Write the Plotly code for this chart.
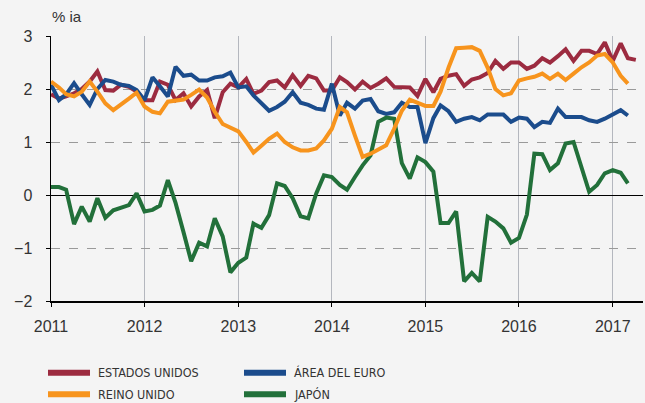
import plotly.graph_objects as go
import pandas as pd

months = pd.date_range("2011-01-01", "2017-04-01", freq="MS")

us = [1.90, 1.82, 1.86, 1.92, 2.00, 2.14, 2.33, 1.98, 1.97, 2.08, 2.04, 1.95,
      1.79, 1.79, 2.14, 2.08, 1.79, 1.92, 1.67, 1.86, 1.98, 1.45, 1.94, 2.10,
      2.03, 2.19, 1.91, 1.97, 2.13, 2.16, 2.03, 2.26, 2.06, 2.25, 2.20, 1.97,
      1.97, 2.22, 2.13, 1.99, 2.14, 2.02, 2.10, 2.20, 2.04, 2.03, 2.03, 1.87,
      2.19, 1.94, 2.19, 2.25, 2.28, 2.06, 2.18, 2.22, 2.30, 2.53, 2.38, 2.50,
      2.50, 2.38, 2.44, 2.58, 2.50, 2.62, 2.75, 2.53, 2.72, 2.72, 2.66, 2.88,
      2.53, 2.86, 2.58, 2.55]

euro = [2.08, 1.79, 1.90, 2.11, 1.90, 1.70, 2.00, 2.17, 2.14, 2.08, 2.06, 1.98,
        1.79, 2.22, 2.05, 1.86, 2.42, 2.25, 2.27, 2.16, 2.16, 2.22, 2.24, 2.31,
        2.03, 2.05, 1.88, 1.72, 1.59, 1.66, 1.76, 1.94, 1.74, 1.70, 1.63, 1.61,
        2.10, 1.50, 1.74, 1.63, 1.78, 1.81, 1.58, 1.53, 1.56, 1.74, 1.66, 1.66,
        0.98, 1.45, 1.69, 1.58, 1.38, 1.44, 1.47, 1.41, 1.52, 1.52, 1.52, 1.38,
        1.46, 1.44, 1.28, 1.38, 1.36, 1.63, 1.47, 1.47, 1.47, 1.41, 1.38, 1.44,
        1.53, 1.60, 1.50]

uk = [2.14, 2.03, 1.90, 1.86, 1.95, 2.14, 1.95, 1.73, 1.60, 1.70, 1.82, 1.93,
      1.67, 1.57, 1.54, 1.76, 1.78, 1.80, 1.89, 1.99, 1.84, 1.57, 1.34, 1.28,
      1.20, 1.00, 0.80, 0.93, 1.06, 1.16, 1.00, 0.90, 0.84, 0.84, 0.88, 1.03,
      1.25, 1.66, 1.56, 1.12, 0.72, 0.78, 0.86, 0.94, 1.25, 1.59, 1.80, 1.74,
      1.68, 1.68, 1.95, 2.40, 2.77, 2.78, 2.79, 2.72, 2.40, 2.00, 1.88, 1.92,
      2.16, 2.20, 2.23, 2.29, 2.19, 2.29, 2.17, 2.29, 2.41, 2.50, 2.63, 2.66,
      2.50, 2.25, 2.10]

japan = [0.15, 0.15, 0.10, -0.55, -0.22, -0.50, -0.06, -0.43, -0.29, -0.25, -0.19, 0.03,
         -0.31, -0.28, -0.20, 0.28, -0.15, -0.70, -1.25, -0.90, -0.97, -0.44, -0.78, -1.46,
         -1.28, -1.18, -0.54, -0.62, -0.38, 0.22, 0.17, -0.06, -0.40, -0.44, 0.03, 0.37,
         0.34, 0.19, 0.10, 0.34, 0.56, 0.75, 1.38, 1.46, 1.44, 0.60, 0.31, 0.71,
         0.62, 0.44, -0.53, -0.53, -0.31, -1.63, -1.47, -1.63, -0.41, -0.50, -0.63, -0.90,
         -0.81, -0.37, 0.78, 0.77, 0.47, 0.60, 0.97, 1.00, 0.53, 0.06, 0.19, 0.41,
         0.47, 0.42, 0.22]

names = ["ESTADOS UNIDOS", "ÁREA DEL EURO", "REINO UNIDO", "JAPÓN"]
colors = {"ESTADOS UNIDOS": "#9C2B40", "ÁREA DEL EURO": "#1B4C8C",
          "REINO UNIDO": "#F7941D", "JAPÓN": "#22703A"}
yticks = [-2, -1, 0, 1, 2, 3]
year_ticks = [f"{y}-01-01" for y in range(2011, 2018)]
year_labels = [str(y) for y in range(2011, 2018)]

series = {"ESTADOS UNIDOS": us, "ÁREA DEL EURO": euro, "REINO UNIDO": uk, "JAPÓN": japan}
draw_order = ["ESTADOS UNIDOS", "ÁREA DEL EURO", "JAPÓN", "REINO UNIDO"]

fig = go.Figure()
for n in draw_order:
    vals = series[n]
    fig.add_trace(go.Scatter(x=months[:len(vals)], y=vals, mode="lines", name=n,
                             line=dict(color=colors[n], width=4), showlegend=False))

BG = "#F4F4F4"
TXT = "#333333"
fig.update_layout(
    width=645, height=403,
    margin=dict(l=51, r=2, t=36, b=102),
    paper_bgcolor=BG, plot_bgcolor=BG,
    font=dict(family="Liberation Sans, Arial, sans-serif", size=16, color=TXT),
)
fig.update_xaxes(
    type="date", range=["2011-01-01", "2017-04-29"],
    tickvals=year_ticks, ticktext=year_labels,
    showgrid=True, gridcolor="#B4B7BE", gridwidth=1,
    showline=True, linecolor="#000000", linewidth=1.5,
    ticks="outside", ticklen=4, tickcolor="#000000",
    ticklabelstandoff=6, zeroline=False,
)
fig.update_yaxes(
    range=[-2, 3], tickvals=yticks,
    showgrid=True, gridcolor="#9A9A9A", griddash="dash", gridwidth=1,
    showline=True, linecolor="#000000", linewidth=1.5,
    ticks="outside", ticklen=4, tickcolor="#000000",
    zeroline=True, zerolinecolor="#000000", zerolinewidth=1,
    ticklabelstandoff=10,
)

fig.add_annotation(text="% ia", xref="paper", yref="paper", x=-0.002, y=1.075,
                   xanchor="left", yanchor="middle", showarrow=False,
                   font=dict(size=15, color=TXT))

# legend (two columns)
H = 265.0
W = 592.0
def px(xp):
    return (xp - 51) / W
def py(yp):
    return (301 - yp) / H

leg = [("ESTADOS UNIDOS", 48, 372.7), ("ÁREA DEL EURO", 244, 372.7),
       ("REINO UNIDO", 48, 394.3), ("JAPÓN", 244, 394.3)]
for n, x0, yy in leg:
    fig.add_shape(type="line", xref="paper", yref="paper",
                  x0=px(x0), x1=px(x0 + 42), y0=py(yy), y1=py(yy),
                  line=dict(color=colors[n], width=6))
    fig.add_annotation(text=n, xref="paper", yref="paper", x=px(x0 + 48), y=py(yy),
                       xanchor="left", yanchor="middle", showarrow=False,
                       font=dict(family="Liberation Sans Narrow, DejaVu Sans Condensed, Arial Narrow, sans-serif",
                                 size=12.5, color=TXT))

fig.write_html("out.html",
               config={"displayModeBar": False, "staticPlot": True},
               post_script="document.body.style.margin='0px';document.body.style.overflow='hidden';")
